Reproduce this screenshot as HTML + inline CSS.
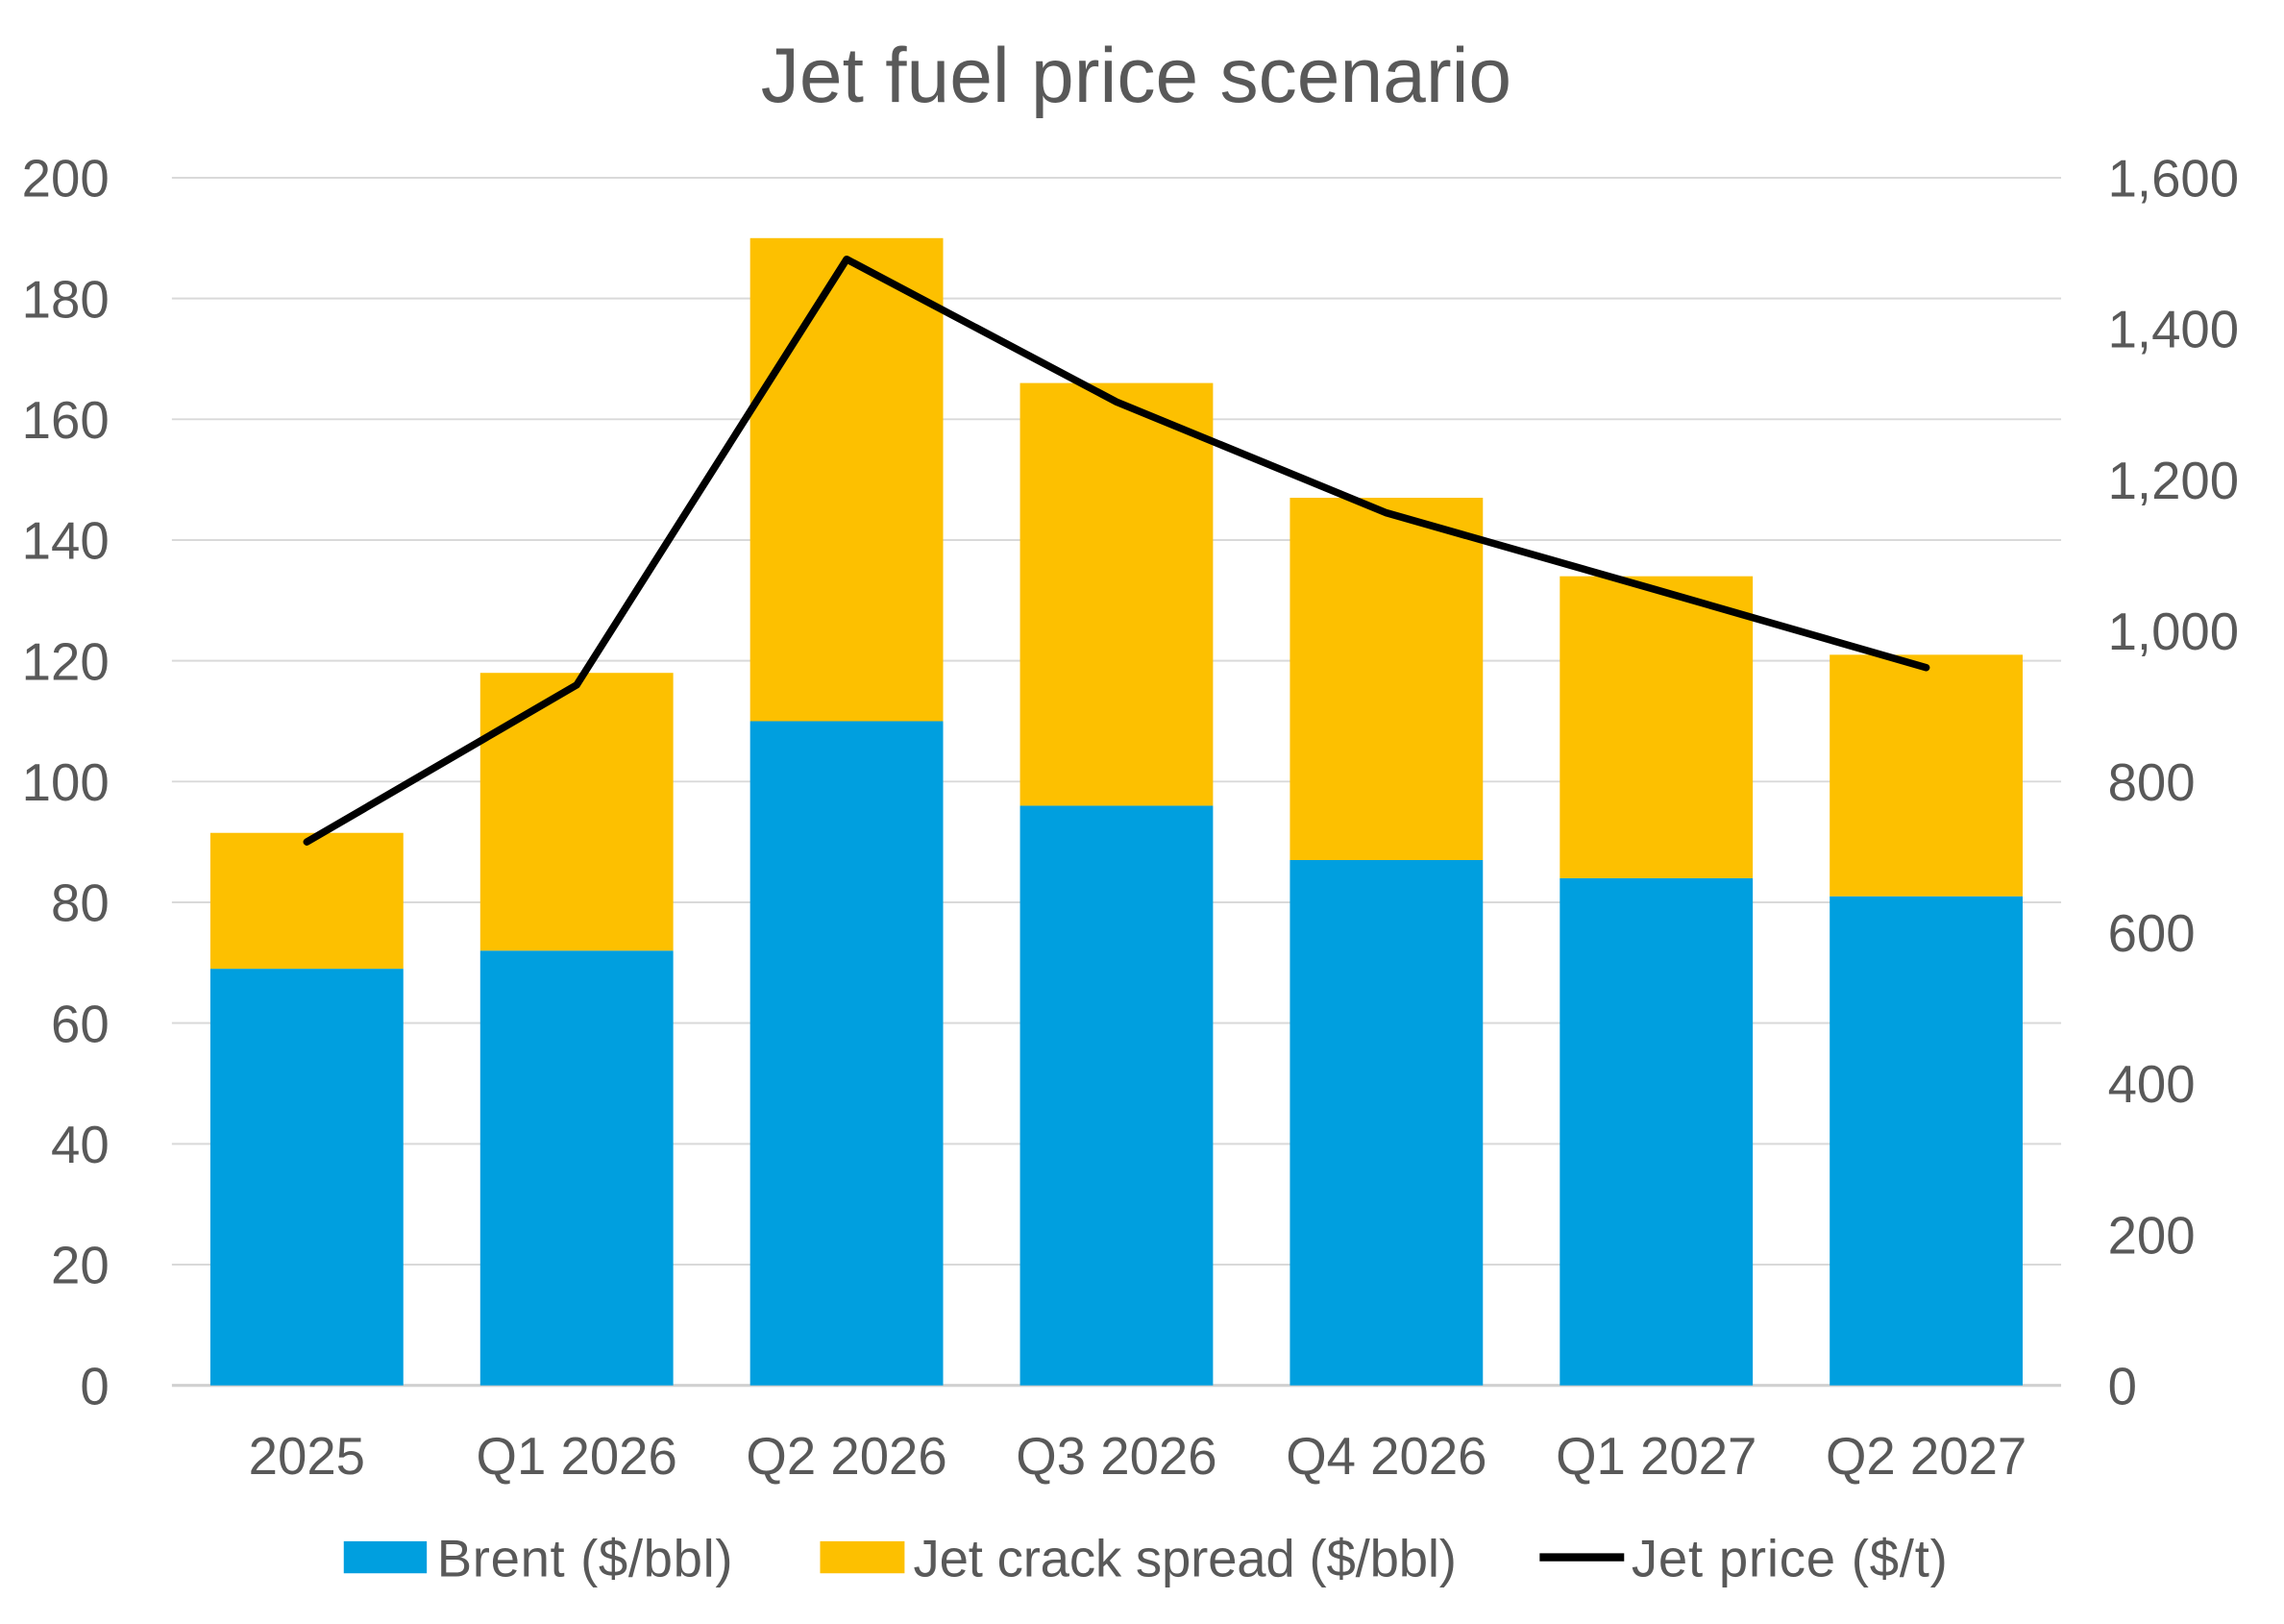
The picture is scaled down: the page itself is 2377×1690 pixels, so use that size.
<!DOCTYPE html>
<html><head><meta charset="utf-8"><style>
html,body{margin:0;padding:0;background:#fff;}
svg{display:block;font-family:"Liberation Sans",sans-serif;}
</style></head><body>
<svg id="chart" width="2377" height="1690" viewBox="0 0 1568 1114.8" xmlns="http://www.w3.org/2000/svg">
<text x="780" y="70" text-anchor="middle" font-size="53" fill="#595959">Jet fuel price scenario</text>
<g id="grid"></g><g id="bars"></g><g id="line"></g><g id="axes"></g>
<g>
<rect x="236" y="1058" width="57" height="22" fill="#009FDF"/>
<text x="300" y="1082" font-size="36" fill="#595959" textLength="203">Brent ($/bbl)</text>
<rect x="563" y="1058" width="58" height="22" fill="#FDC000"/>
<text x="627" y="1082" font-size="36" fill="#595959" textLength="373">Jet crack spread ($/bbl)</text>
<line x1="1057" y1="1069" x2="1115" y2="1069" stroke="#000" stroke-width="5.5"/>
<text x="1120" y="1082" font-size="36" fill="#595959" textLength="217">Jet price ($/t)</text>
</g>
</svg>
<script>
const categories=["2025","Q1 2026","Q2 2026","Q3 2026","Q4 2026","Q1 2027","Q2 2027"];
const brent=[69,72,110,96,87,84,81];
const crack=[22.5,46,80,70,60,50,40];
const jetPrice=[720,928,1492,1303,1156,1054,951];
const leftTicks=[0,20,40,60,80,100,120,140,160,180,200];
const rightTicks=["0","200","400","600","800","1,000","1,200","1,400","1,600"];
const NS="http://www.w3.org/2000/svg";
const L=118,R=1415,Y0=951,Y1=122;
const yL=v=>Y0-(v/200)*(Y0-Y1);
const yR=v=>Y0-(v/1600)*(Y0-Y1);
const band=(R-L)/categories.length;
const xC=i=>L+band*(i+0.5);
const bw=band*0.715;
function mk(t,a,p){const e=document.createElementNS(NS,t);for(const k in a)e.setAttribute(k,a[k]);p.appendChild(e);return e;}
const grid=document.getElementById('grid'),bars=document.getElementById('bars'),line=document.getElementById('line'),axes=document.getElementById('axes');
leftTicks.forEach(v=>{
 const g=mk('line',{x1:L,x2:R,y1:yL(v),y2:yL(v),stroke:v===0?'#d0d0d0':'#d9d9d9','stroke-width':v===0?2:1.3},grid);
 
 
 const t=mk('text',{x:75,y:yL(v)+13,'text-anchor':'end','font-size':36,fill:'#595959'},axes);
 t.textContent=v;
 
 
});
rightTicks.forEach((s,i)=>{
 const t=mk('text',{x:1447,y:yR(i*200)+13,'font-size':36,fill:'#595959'},axes);
 t.textContent=s;
 
 
});
categories.forEach((c,i)=>{
 const b=mk('rect',{x:xC(i)-bw/2,y:yL(brent[i]),width:bw,height:Y0-yL(brent[i]),fill:'#009FDF'},bars);
 
 
 const top=brent[i]+crack[i];
 const k=mk('rect',{x:xC(i)-bw/2,y:yL(top),width:bw,height:yL(brent[i])-yL(top),fill:'#FDC000'},bars);
 
 
 const t=mk('text',{x:xC(i),y:1012,'text-anchor':'middle','font-size':36,fill:'#595959'},axes);
 t.textContent=c;
 
 
});
const p=mk('polyline',{points:jetPrice.map((v,i)=>xC(i)+','+yR(v)).join(' '),fill:'none',stroke:'#000','stroke-width':5,'stroke-linejoin':'round','stroke-linecap':'round'},line);


</script>
</body></html>
